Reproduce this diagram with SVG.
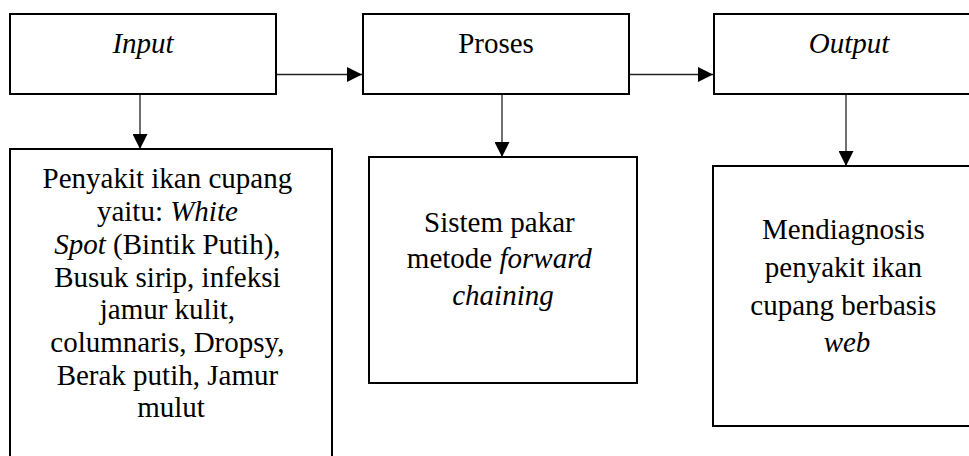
<svg xmlns="http://www.w3.org/2000/svg" width="969" height="456" viewBox="0 0 969 456">
  <style>
    .box { fill: #fff; stroke: #000; stroke-width: 2; }
    .edge { fill: none; stroke: #222; stroke-width: 1.3; }
    .lbl { font-family: "Liberation Serif", "Times New Roman", serif; font-size: 29px; fill: #000; text-anchor: middle; }
    .it { font-style: italic; }
  </style>
  <defs>
    <marker id="arrow" markerUnits="userSpaceOnUse" markerWidth="15" markerHeight="15" viewBox="0 0 14 14" refX="14" refY="7" orient="auto">
      <path d="M0,0 L14,7 L0,14 Z" fill="#000"/>
    </marker>
  </defs>
  <rect width="969" height="456" fill="#fff"/>

  <g id="connectors">
    <line class="edge" x1="277" y1="74.5" x2="362" y2="74.5" marker-end="url(#arrow)"/>
    <line class="edge" x1="630" y1="74.5" x2="713" y2="74.5" marker-end="url(#arrow)"/>
    <line class="edge" x1="140" y1="95" x2="140" y2="149" marker-end="url(#arrow)"/>
    <line class="edge" x1="502" y1="95" x2="502" y2="157" marker-end="url(#arrow)"/>
    <line class="edge" x1="846" y1="95" x2="846" y2="166" marker-end="url(#arrow)"/>
  </g>

  <g id="input">
    <rect class="box" x="10" y="14" width="266" height="80"/>
    <text class="lbl it" x="143" y="53">Input</text>
  </g>

  <g id="proses">
    <rect class="box" x="363" y="14" width="266" height="80"/>
    <text class="lbl" x="496" y="53">Proses</text>
  </g>

  <g id="output">
    <rect class="box" x="714" y="14" width="270" height="80"/>
    <text class="lbl it" x="849" y="53">Output</text>
  </g>

  <g id="penyakit">
    <path class="box" d="M10,470 L10,149 L332,149 L332,470"/>
    <text class="lbl" x="171">
      <tspan x="171" y="188">Penyakit ikan cupang</tspan>
      <tspan x="171" y="221">yaitu: <tspan class="it">White</tspan></tspan>
      <tspan x="171" y="254"><tspan class="it">Spot</tspan> (Bintik Putih),</tspan>
      <tspan x="171" y="287">Busuk sirip, infeksi</tspan>
      <tspan x="171" y="319">jamur kulit,</tspan>
      <tspan x="171" y="352">columnaris, Dropsy,</tspan>
      <tspan x="171" y="385">Berak putih, Jamur</tspan>
      <tspan x="171" y="417">mulut</tspan>
    </text>
  </g>

  <g id="sistem-pakar">
    <rect class="box" x="369" y="157" width="268" height="226"/>
    <text class="lbl" x="503">
      <tspan x="503" y="232">Sistem pakar</tspan>
      <tspan x="503" y="268">metode <tspan class="it">forward</tspan></tspan>
      <tspan x="503" y="305" class="it">chaining</tspan>
    </text>
  </g>

  <g id="diagnosis">
    <rect class="box" x="713" y="166" width="268" height="260"/>
    <text class="lbl" x="847">
      <tspan x="847" y="239">Mendiagnosis</tspan>
      <tspan x="847" y="277">penyakit ikan</tspan>
      <tspan x="847" y="315">cupang berbasis</tspan>
      <tspan x="847" y="352" class="it">web</tspan>
    </text>
  </g>
</svg>
